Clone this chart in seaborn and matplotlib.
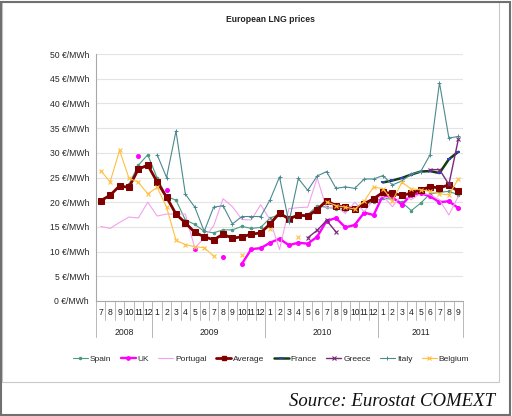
import numpy as np
import pandas as pd
import matplotlib
matplotlib.use('Agg')
import matplotlib.pyplot as plt
import matplotlib.transforms as mtransforms
from matplotlib.lines import Line2D
from matplotlib.patches import Rectangle
import seaborn as sns

nan = np.nan

# months 7/2008 .. 9/2011
months = [7, 8, 9, 10, 11, 12] + list(range(1, 13)) * 2 + list(range(1, 10))
years = ['2008', '2009', '2010', '2011']
year_start = [0, 6, 18, 30]
year_end = [6, 18, 30, 39]

spain = [nan, nan, nan, 23.6, 27.5, 29.6,
         24.9, 21.2, 20.4, 16.4, 15.5, 14.1, 13.8, 14.4, 14.4, 15.1, 14.7, 14.9,
         16.8, 17.5, 17.0, 17.3, 17.5, 19.2, 19.0, 18.7, 18.5, 18.6, 19.5, 20.1,
         20.8, 20.6, 20.0, 18.3, 19.8, 21.7, 22.0, 22.2, 21.5]
uk = [nan, nan, nan, nan, 29.4, nan,
      nan, 22.4, nan, nan, 10.5, nan, nan, 8.9, nan, 7.5, 10.5, 10.7,
      11.8, 12.6, 11.3, 11.8, 11.6, 13.0, 16.2, 16.8, 14.9, 15.4, 17.9, 17.4,
      21.4, 21.0, 19.5, 21.5, 21.8, 21.2, 20.0, 20.2, 18.8]
portugal = [15.1, 14.7, 15.9, 17.0, 16.8, 20.0,
            17.2, 17.6, 17.6, 17.6, 10.7, 12.8, 15.2, 20.7, 19.1, 16.5, 16.4, 19.5,
            16.4, 10.4, 18.7, 18.9, 19.0, 24.9, 18.8, 19.2, 17.7, 20.0, 18.1, 20.5,
            21.2, 19.1, 21.5, 20.5, 21.8, 21.5, 20.5, 17.4, 21.2]
average = [20.3, 21.4, 23.3, 23.0, 26.7, 27.5,
           24.1, 21.0, 17.6, 15.8, 13.9, 13.0, 12.4, 13.5, 12.7, 13.0, 13.5, 13.8,
           15.6, 17.8, 16.6, 17.4, 17.2, 18.5, 20.3, 19.3, 19.0, 18.6, 19.7, 20.7,
           22.0, 21.8, 21.4, 21.8, 22.5, 23.1, 22.9, 23.5, 22.2]
france = [nan] * 30 + [24.0, 24.4, 24.9, 25.6, 26.2, 26.3, 25.9, 28.7, 30.2]
greece = ([nan] * 22 + [12.8, 14.3, 16.3, 14.0] + [nan] * 9
          + [26.6, 26.6, 23.6, 32.7])
italy = [nan, nan, nan, nan, nan, nan,
         29.6, 25.0, 34.4, 21.6, 19.0, 14.1, 19.0, 19.3, 15.6, 17.1, 17.1, 17.1,
         20.5, 25.1, 15.9, 24.8, 22.4, 25.3, 26.2, 22.8, 23.1, 22.8, 24.7, 24.7,
         25.4, 23.5, 24.3, 25.7, 26.2, 29.6, 44.2, 33.0, 33.3]
belgium = [26.4, 24.1, 30.5, 24.9, 24.0, 21.7,
           23.0, 19.0, 12.3, 11.4, 11.0, 10.8, 9.1, nan, nan, 9.3, nan, nan,
           14.6, nan, nan, 12.9, nan, nan, 20.1, 19.3, 19.0, 18.6, 20.2, 23.1,
           22.7, 20.3, 24.0, 22.7, 22.5, 22.2, 21.7, 21.5, 24.7]

df = pd.DataFrame({'Spain': spain, 'UK': uk, 'Portugal': portugal,
                   'Average': average, 'France': france, 'Greece': greece,
                   'Italy': italy, 'Belgium': belgium})

styles = {
    'Spain': dict(color='#4a9a84', lw=0.8, marker='o', markersize=1.8),
    'UK': dict(color='#ff00ff', lw=1.7, marker='o', markersize=2.8),
    'Portugal': dict(color='#f4a0f0', lw=0.8),
    'Average': dict(color='#800000', lw=2.0, marker='s', markersize=4.2),
    'France': dict(color='#123d12', lw=1.8, marker='_', markersize=3.5,
                   markeredgecolor='#2a3fd0', markeredgewidth=1.4),
    'Greece': dict(color='#7a2a7a', lw=1.0, marker='x', markersize=3.4,
                   markeredgewidth=0.8),
    'Italy': dict(color='#4a8a8e', lw=0.8, marker='+', markersize=3.2,
                  markeredgewidth=0.7),
    'Belgium': dict(color='#ffc040', lw=0.8, marker='x', markersize=3.4,
                    markeredgewidth=0.8),
}

sns.set_theme(style='white')
plt.rcParams['font.family'] = ['Liberation Sans', 'DejaVu Sans']

fig = plt.figure(figsize=(5.12, 4.16), dpi=100)
ax = fig.add_axes([96 / 512, 1 - 301 / 416, 367 / 512, 247 / 416])

for name in df.columns:
    s = df[name]
    st = styles[name]
    grp = s.isna().cumsum()
    for _, seg in s[s.notna()].groupby(grp[s.notna()]):
        sns.lineplot(x=seg.index, y=seg.values, ax=ax, legend=False,
                     markeredgecolor=st.get('markeredgecolor', st['color']),
                     **{k: v for k, v in st.items() if k != 'markeredgecolor'})

ax.set_xlim(-0.5, 38.5)
ax.set_ylim(0, 50)
ax.set_yticks(range(0, 51, 5))
ax.set_yticklabels([f'{v} €/MWh' for v in range(0, 51, 5)], fontsize=6.2)
ax.yaxis.grid(True, color='#e4e4e4', lw=0.8)
ax.set_axisbelow(True)
ax.set_xticks([])
ax.set_xlabel('')
ax.set_ylabel('')
for sp in ['top', 'right']:
    ax.spines[sp].set_visible(False)
for sp in ['left', 'bottom']:
    ax.spines[sp].set_color('#a8a8a8')
    ax.spines[sp].set_linewidth(0.8)
ax.tick_params(axis='y', length=3, color='#a8a8a8', width=0.8, pad=2)

# two-level category axis
tr = mtransforms.blended_transform_factory(ax.transData, ax.transAxes)
for i, m in enumerate(months):
    ax.text(i, -0.047, str(m), transform=tr, ha='center', va='center',
            fontsize=6.2, color='#222222')
for k in range(40):
    ax.plot([k - 0.5, k - 0.5], [0, -0.077], transform=tr, color='#b8b8b8',
            lw=0.7, clip_on=False)
for y0, y1, lab in zip(year_start, year_end, years):
    ax.text((y0 + y1 - 1) / 2, -0.127, lab, transform=tr, ha='center',
            va='center', fontsize=6.2, color='#222222')
    for b in (y0, y1):
        ax.plot([b - 0.5, b - 0.5], [0, -0.146], transform=tr,
                color='#b8b8b8', lw=0.7, clip_on=False)

fig.text(0.528, 0.952, 'European LNG prices', ha='center', va='center',
         fontsize=6.2, fontweight='bold', color='#222222')

handles = []
for name in df.columns:
    st = styles[name]
    handles.append(Line2D([], [], color=st['color'], lw=st['lw'],
                          marker=st.get('marker', None),
                          markersize=st.get('markersize', 0) * 0.85,
                          markeredgecolor=st.get('markeredgecolor', st['color']),
                          markeredgewidth=st.get('markeredgewidth', 1)))
fig.legend(handles, list(df.columns), loc='center', ncol=8,
           bbox_to_anchor=(271 / 512, 1 - 359 / 416), frameon=False,
           fontsize=6.0, handlelength=1.8, handletextpad=0.25,
           columnspacing=1.1)

fig.text(495 / 512, 1 - 402 / 416, 'Source: Eurostat COMEXT', ha='right',
         va='center', fontsize=13.5, style='italic',
         family=['Liberation Serif', 'DejaVu Serif'], color='#111111')

fig.add_artist(Rectangle((2 / 512, 1 - 382 / 416), 497 / 512, 380 / 416,
                         transform=fig.transFigure, fill=False,
                         ec='#c8c8c8', lw=0.8))
fig.add_artist(Rectangle((1 / 512, 1 / 416), 509 / 512, 413 / 416,
                         transform=fig.transFigure, fill=False,
                         ec='#707070', lw=1.5))

fig.savefig('out.png', dpi=100)
